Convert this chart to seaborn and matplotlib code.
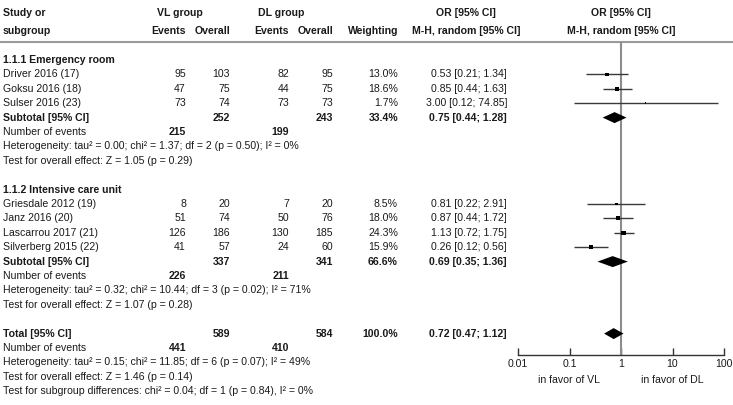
import numpy as np
import pandas as pd
import seaborn as sns
import matplotlib.pyplot as plt
import matplotlib.transforms as mtransforms

# study level data
studies = ["Driver 2016 (17)", "Goksu 2016 (18)", "Sulser 2016 (23)",
           "Griesdale 2012 (19)", "Janz 2016 (20)", "Lascarrou 2017 (21)", "Silverberg 2015 (22)"]
groups = ["1.1.1 Emergency room"] * 3 + ["1.1.2 Intensive care unit"] * 4
vl_events = [95, 47, 73, 8, 51, 126, 41]
vl_total = [103, 75, 74, 20, 74, 186, 57]
dl_events = [82, 44, 73, 7, 50, 130, 24]
dl_total = [95, 75, 73, 20, 76, 185, 60]
weights = [13.0, 18.6, 1.7, 8.5, 18.0, 24.3, 15.9]
or_est = [0.53, 0.85, 3.00, 0.81, 0.87, 1.13, 0.26]
or_lo = [0.21, 0.44, 0.12, 0.22, 0.44, 0.72, 0.12]
or_hi = [1.34, 1.63, 74.85, 2.91, 1.72, 1.75, 0.56]

# subgroup summaries
sub_names = ["1.1.1 Emergency room", "1.1.2 Intensive care unit"]
sub_vl_total = [252, 337]
sub_dl_total = [243, 341]
sub_vl_events = [215, 226]
sub_dl_events = [199, 211]
sub_weight = [33.4, 66.6]
sub_or = [0.75, 0.69]
sub_lo = [0.44, 0.35]
sub_hi = [1.28, 1.36]
sub_het = ["Heterogeneity: tau² = 0.00; chi² = 1.37; df = 2 (p = 0.50); I² = 0%",
           "Heterogeneity: tau² = 0.32; chi² = 10.44; df = 3 (p = 0.02); I² = 71%"]
sub_z = ["Test for overall effect: Z = 1.05 (p = 0.29)",
         "Test for overall effect: Z = 1.07 (p = 0.28)"]

# overall
tot_vl_total, tot_dl_total = 589, 584
tot_vl_events, tot_dl_events = 441, 410
tot_weight = 100.0
tot_or, tot_lo, tot_hi = 0.72, 0.47, 1.12
tot_notes = ["Heterogeneity: tau² = 0.15; chi² = 11.85; df = 6 (p = 0.07); I² = 49%",
             "Test for overall effect: Z = 1.46 (p = 0.14)",
             "Test for subgroup differences: chi² = 0.04; df = 1 (p = 0.84), I² = 0%"]

xticks = [0.01, 0.1, 1, 10, 100]
xtick_labels = ["0.01", "0.1", "1", "10", "100"]

df = pd.DataFrame({"study": studies, "group": groups, "vl_e": vl_events, "vl_n": vl_total,
                   "dl_e": dl_events, "dl_n": dl_total, "w": weights,
                   "est": or_est, "lo": or_lo, "hi": or_hi})

sns.set_theme(style="white")
plt.rcParams["font.family"] = ["Liberation Sans", "DejaVu Sans"]
FS = 7.6
TXT = "#1a1a1a"

W, H = 733, 405
fig = plt.figure(figsize=(W / 100, H / 100), dpi=100)
tax = fig.add_axes([0, 0, 1, 1])
tax.set_xlim(0, W)
tax.set_ylim(H, 0)
tax.axis("off")

# layout (pixels)
top0, step = 60, 14.4
axis_y, line_y = 355, 42
cols = {"vl_e": 186, "vl_n": 230, "dl_e": 289, "dl_n": 333, "w": 398, "or": 507}

ax = fig.add_axes([518 / W, (H - axis_y) / H, (724 - 518) / W, (axis_y - line_y) / H])
ax.set_xscale("log")
ax.set_xlim(0.01, 100)
ax.set_ylim(axis_y, line_y)
ax.patch.set_alpha(0)
for s in ["left", "right", "top"]:
    ax.spines[s].set_visible(False)
ax.spines["bottom"].set_color("#333333")
ax.spines["bottom"].set_linewidth(1)

blend = mtransforms.blended_transform_factory(ax.transData, tax.transData)


def txt(x, y, s, ha="left", bold=False):
    tax.text(x, y, s, ha=ha, va="center", fontsize=FS, color=TXT,
             fontweight="bold" if bold else "normal")


def diamond(lo, est, hi, y):
    ax.fill([lo, est, hi, est], [y, y - 5.5, y, y + 5.5], color="black", lw=0, zorder=3)


# header
txt(3, 13, "Study or", bold=True)
txt(3, 31, "subgroup", bold=True)
txt(180, 13, "VL group", ha="center", bold=True)
txt(281, 13, "DL group", ha="center", bold=True)
for k, lab in [("vl_e", "Events"), ("vl_n", "Overall"), ("dl_e", "Events"), ("dl_n", "Overall"),
               ("w", "Weighting")]:
    txt(cols[k], 31, lab, ha="right", bold=True)
txt(466, 13, "OR [95% CI]", ha="center", bold=True)
txt(466, 31, "M-H, random [95% CI]", ha="center", bold=True)
tax.text(1, 13, "OR [95% CI]", transform=blend, ha="center", va="center", fontsize=FS,
         color=TXT, fontweight="bold")
tax.text(1, 31, "M-H, random [95% CI]", transform=blend, ha="center", va="center", fontsize=FS,
         color=TXT, fontweight="bold")
tax.axhline(line_y, color="#9a9a9a", lw=1.5)

row = 0
for gi, g in enumerate(sub_names):
    y = top0 + row * step
    txt(3, y, g, bold=True)
    row += 1
    sub = df[df["group"] == g].copy()
    sub["y"] = [top0 + (row + i) * step for i in range(len(sub))]
    for _, r in sub.iterrows():
        txt(3, r.y, r.study)
        txt(cols["vl_e"], r.y, str(r.vl_e), ha="right")
        txt(cols["vl_n"], r.y, str(r.vl_n), ha="right")
        txt(cols["dl_e"], r.y, str(r.dl_e), ha="right")
        txt(cols["dl_n"], r.y, str(r.dl_n), ha="right")
        txt(cols["w"], r.y, f"{r.w:.1f}%", ha="right")
        txt(cols["or"], r.y, f"{r.est:.2f} [{r.lo:.2f}; {r.hi:.2f}]", ha="right")
    ax.hlines(sub["y"], sub["lo"], sub["hi"], color="#3a3a3a", lw=1, zorder=2)
    sns.scatterplot(data=sub, x="est", y="y", size="w", sizes=(1, 42), size_norm=(0, 100),
                    marker="s", color="black", linewidth=0, legend=False, ax=ax, zorder=4)
    row += len(sub)
    y = top0 + row * step
    txt(3, y, "Subtotal [95% CI]", bold=True)
    txt(cols["vl_n"], y, str(sub_vl_total[gi]), ha="right", bold=True)
    txt(cols["dl_n"], y, str(sub_dl_total[gi]), ha="right", bold=True)
    txt(cols["w"], y, f"{sub_weight[gi]:.1f}%", ha="right", bold=True)
    txt(cols["or"], y, f"{sub_or[gi]:.2f} [{sub_lo[gi]:.2f}; {sub_hi[gi]:.2f}]", ha="right", bold=True)
    diamond(sub_lo[gi], sub_or[gi], sub_hi[gi], y)
    row += 1
    y = top0 + row * step
    txt(3, y, "Number of events")
    txt(cols["vl_e"], y, str(sub_vl_events[gi]), ha="right", bold=True)
    txt(cols["dl_e"], y, str(sub_dl_events[gi]), ha="right", bold=True)
    row += 1
    txt(3, top0 + row * step, sub_het[gi])
    row += 1
    txt(3, top0 + row * step, sub_z[gi])
    row += 2

# total block
y = top0 + row * step
txt(3, y, "Total [95% CI]", bold=True)
txt(cols["vl_n"], y, str(tot_vl_total), ha="right", bold=True)
txt(cols["dl_n"], y, str(tot_dl_total), ha="right", bold=True)
txt(cols["w"], y, f"{tot_weight:.1f}%", ha="right", bold=True)
txt(cols["or"], y, f"{tot_or:.2f} [{tot_lo:.2f}; {tot_hi:.2f}]", ha="right", bold=True)
diamond(tot_lo, tot_or, tot_hi, y)
row += 1
y = top0 + row * step
txt(3, y, "Number of events")
txt(cols["vl_e"], y, str(tot_vl_events), ha="right", bold=True)
txt(cols["dl_e"], y, str(tot_dl_events), ha="right", bold=True)
for note in tot_notes:
    row += 1
    txt(3, top0 + row * step, note)

# forest axis styling
ax.set_xscale("log")
ax.set_xlim(0.01, 100)
ax.set_ylim(axis_y, line_y)
ax.set_xticks(xticks)
ax.set_xticklabels(xtick_labels)
ax.minorticks_off()
ax.tick_params(axis="x", direction="in", length=5, width=1, color="#333333",
               labelsize=FS, labelcolor=TXT, pad=3, bottom=True)
ax.set_yticks([])
ax.set_xlabel("")
ax.set_ylabel("")
ax.axvline(1, color="#8c8c8c", lw=1.5, zorder=1)

tax.text(0.1, 380, "in favor of VL", transform=blend, ha="center", va="center", fontsize=FS, color=TXT)
tax.text(10, 380, "in favor of DL", transform=blend, ha="center", va="center", fontsize=FS, color=TXT)

fig.savefig("out.png", dpi=100)
